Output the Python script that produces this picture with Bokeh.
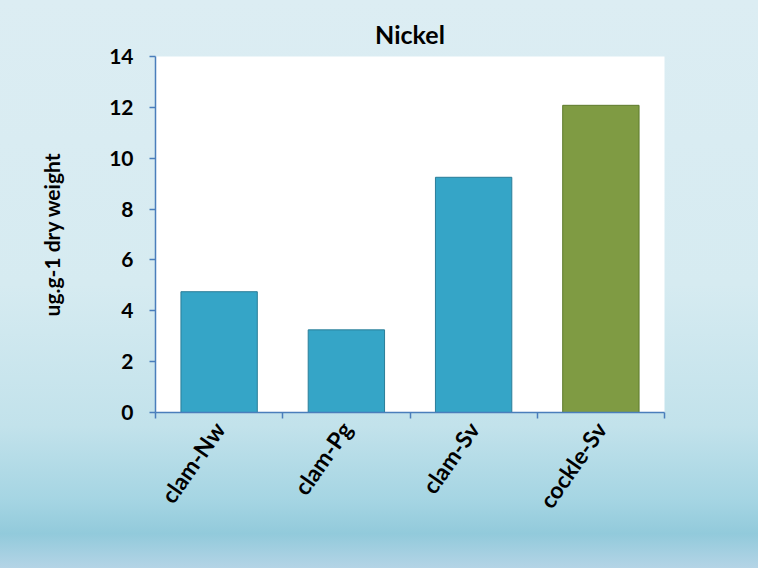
import math
from bokeh.plotting import figure
from bokeh.models import ColumnDataSource, FixedTicker, Range1d
from bokeh.embed import file_html
from bokeh.resources import INLINE

# ---- data ----
categories = ["clam-Nw", "clam-Pg", "clam-Sv", "cockle-Sv"]
nickel = [4.75, 3.25, 9.25, 12.08]
bar_colors = ["#35a5c7", "#35a5c7", "#35a5c7", "#7f9b43"]
bar_lines = ["#2a7d98", "#2a7d98", "#2a7d98", "#5e7a2c"]
y_ticks = [0, 2, 4, 6, 8, 10, 12, 14]

positions = [i + 0.5 for i in range(len(categories))]
src = ColumnDataSource(dict(x=positions, top=nickel, cat=categories,
                            fill=bar_colors, line=bar_lines))

FONT = "Lato"
p = figure(width=758, height=568, output_backend="svg", toolbar_location=None,
           x_range=Range1d(0, len(categories)), y_range=Range1d(0, 14),
           min_border_left=155, min_border_right=94, min_border_top=56,
           min_border_bottom=156, title="Nickel")

p.styles = {"background": "linear-gradient(to bottom, #dcedf3 0%, #d6ebf1 50%, #c2e2eb 75%, #a5d5e3 88%, #92cadb 94%, #b4d4e6 100%)"}
p.border_fill_alpha = 0
p.background_fill_color = "white"
p.outline_line_color = None
p.xgrid.visible = False
p.ygrid.visible = False

p.vbar(x="x", top="top", width=0.6, bottom=0, source=src,
       fill_color="fill", line_color="line", line_width=1)

p.title.text_font = FONT
p.title.text_font_size = "25px"
p.title.text_font_style = "bold"
p.title.text_color = "black"
p.title.align = "center"
p.title.standoff = 16

axis_color = "#4a7ebb"

ya = p.yaxis[0]
ya.ticker = FixedTicker(ticks=y_ticks)
ya.axis_line_color = axis_color
ya.axis_line_width = 1.5
ya.major_tick_line_color = axis_color
ya.major_tick_line_width = 1.5
ya.major_tick_in = 0
ya.major_tick_out = 6
ya.minor_tick_line_color = None
ya.major_label_standoff = 16
ya.major_label_text_font = FONT
ya.major_label_text_font_size = "21px"
ya.major_label_text_font_style = "bold"
ya.major_label_text_color = "black"
ya.axis_label = "ug.g-1 dry weight"
ya.axis_label_text_font = FONT
ya.axis_label_text_font_size = "21px"
ya.axis_label_text_font_style = "bold"
ya.axis_label_text_color = "black"
ya.axis_label_standoff = 42

xa = p.xaxis[0]
xa.ticker = FixedTicker(ticks=positions, minor_ticks=list(range(len(categories) + 1)))
xa.major_label_overrides = {pos: c for pos, c in zip(positions, categories)}
xa.axis_line_color = axis_color
xa.axis_line_width = 1.5
xa.major_tick_line_color = None
xa.major_tick_out = 0
xa.major_tick_in = 0
xa.minor_tick_line_color = axis_color
xa.minor_tick_line_width = 1.5
xa.minor_tick_in = 0
xa.minor_tick_out = 6
xa.major_label_orientation = math.radians(55)
xa.major_label_standoff = 6
xa.major_label_text_font = FONT
xa.major_label_text_font_size = "23px"
xa.major_label_text_font_style = "bold"
xa.major_label_text_color = "black"

open("out.html", "w").write(file_html(p, INLINE))
